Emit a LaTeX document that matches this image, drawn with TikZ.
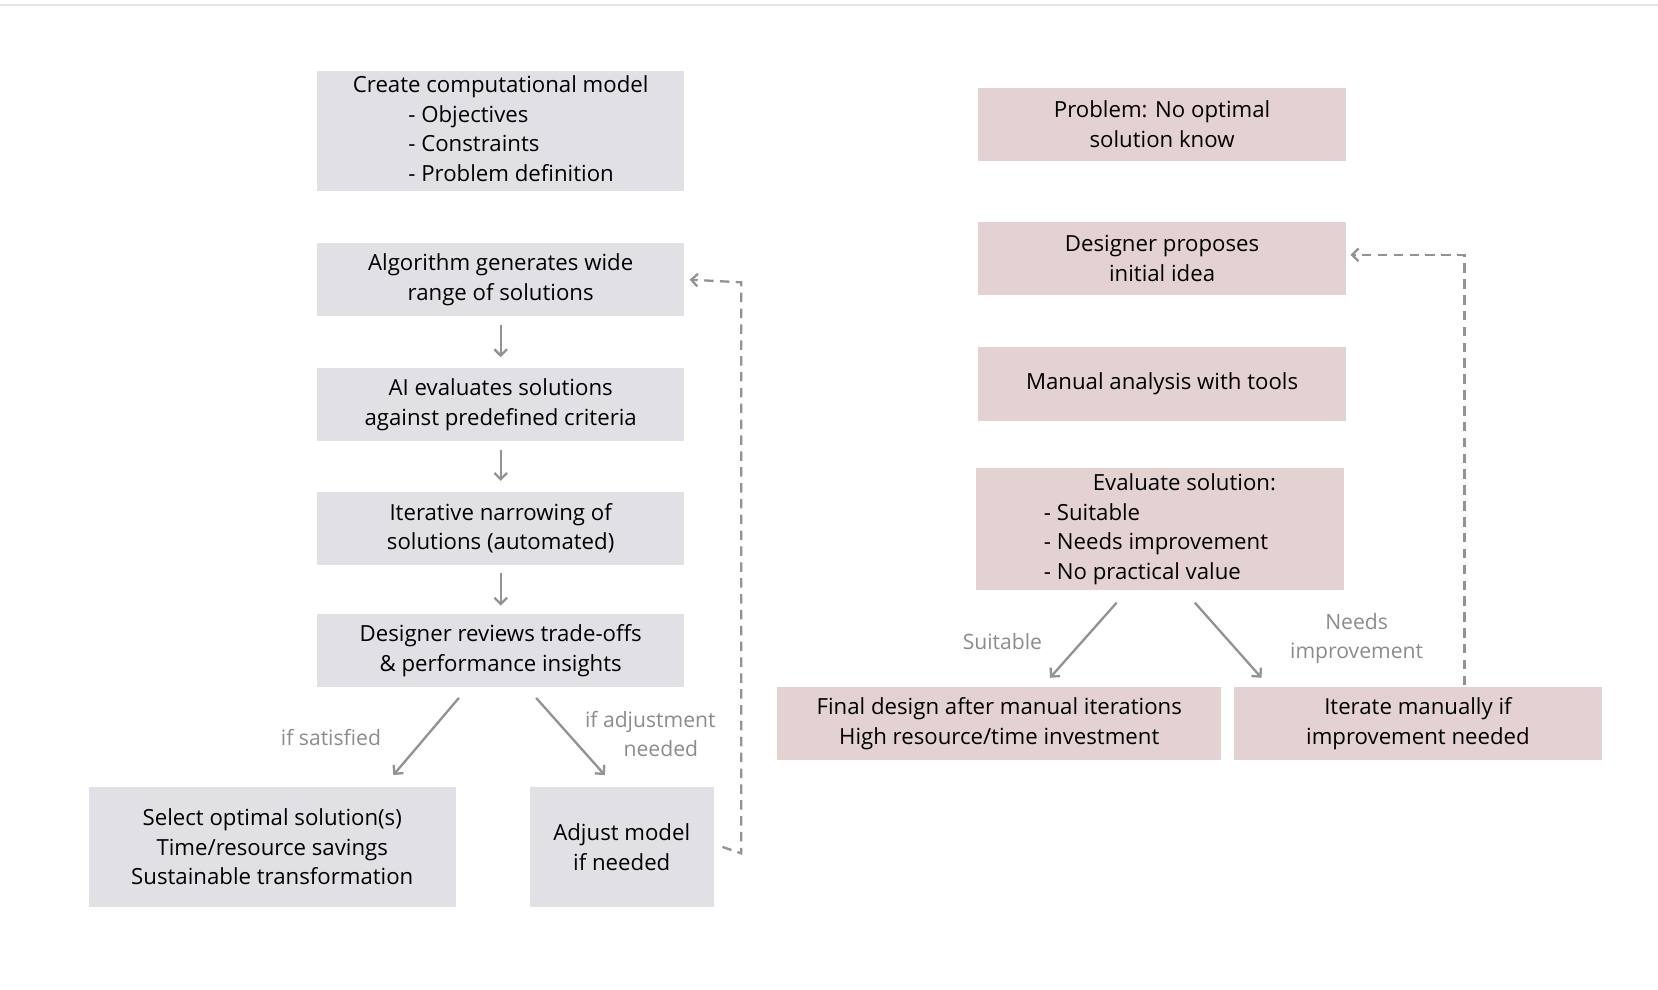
\documentclass[tikz,border=0pt]{standalone}
\usepackage{fontspec}
\usetikzlibrary{arrows.meta}
\setmainfont{Open Sans}
\begin{document}
\begin{tikzpicture}[x=1pt,y=-1pt,
 bx/.style={fill=blue!8!gray!22,inner sep=0pt,align=center,font=\fontsize{21}{28}\selectfont},
 pk/.style={fill=red!25!gray!28,inner sep=0pt,align=center,font=\fontsize{21}{28}\selectfont},
 ar/.style={draw=gray!85,line width=2.2pt,-{Straight Barb[length=6pt]}},
 da/.style={draw=gray!85,line width=2.2pt,dash pattern=on 9pt off 6pt,-{Straight Barb[length=6pt]}},
 lb/.style={text=gray!90,align=center,font=\fontsize{20}{27}\selectfont}]
\useasboundingbox (0,0) rectangle (1568,936);
\draw[gray!20,line width=2pt] (0,5) coordinate(tl) -- (1568,5) coordinate(tr);
\def\bxn#1#2#3#4#5#6#7{\node[#1,minimum width=#4-#3,minimum height=#6-#5] (#2) at ({(#3+#4)/2},{(#5+#6)/2}) {#7};}
\bxn{bx}{b1}{300}{647}{67}{181}{\begin{tabular}{@{}l@{}}Create computational model\\\hspace{2.5em}- Objectives\\\hspace{2.5em}- Constraints\\\hspace{2.5em}- Problem definition\end{tabular}}
\bxn{bx}{b2}{300}{647}{230}{299}{Algorithm generates wide\\range of solutions}
\bxn{bx}{b3}{300}{647}{348}{417}{AI evaluates solutions\\against predefined criteria}
\bxn{bx}{b4}{300}{647}{465}{534}{Iterative narrowing of\\solutions (automated)}
\bxn{bx}{b5}{300}{647}{581}{650}{Designer reviews trade-offs\\\& performance insights}
\bxn{bx}{b6}{84}{431}{744}{858}{Select optimal solution(s)\\Time/resource savings\\Sustainable transformation}
\bxn{bx}{b7}{501}{675}{744}{858}{Adjust model\\if needed}
\bxn{pk}{p1}{925}{1273}{83}{152}{Problem: No optimal\\solution know}
\bxn{pk}{p2}{925}{1273}{210}{279}{Designer proposes\\initial idea}
\bxn{pk}{p3}{925}{1273}{328}{398}{Manual analysis with tools}
\bxn{pk}{p4}{923}{1271}{443}{558}{\begin{tabular}{@{}l@{}}\hspace{2.2em}Evaluate solution:\\- Suitable\\- Needs improvement\\- No practical value\end{tabular}}
\bxn{pk}{p5}{735}{1155}{650}{719}{Final design after manual iterations\\High resource/time investment}
\bxn{pk}{p6}{1167}{1515}{650}{719}{Iterate manually if\\improvement needed}
\draw[ar] ([yshift=-8]b2.south) -- ([yshift=10]b3.north);
\draw[ar] ([yshift=-8]b3.south) -- ([yshift=10]b4.north);
\draw[ar] ([yshift=-8]b4.south) -- ([yshift=8]b5.north);
\draw[ar] (434,660) coordinate(s1) -- (372,733) coordinate(e1);
\draw[ar] (507,660) coordinate(s2) -- (572,733) coordinate(e2);
\node[lb] (l1) at (313,697) {if satisfied};
\node[lb] (l2) at (615,694) {if adjustment\\\hspace{1em}needed};
\draw[da] ([xshift=8]b7.east) -- (701,807) -- (701,267) -- ([xshift=5]b2.east);
\draw[ar] (1056,570) coordinate(s3) -- (993,641) coordinate(e3);
\draw[ar] (1130,570) coordinate(s4) -- (1193,641) coordinate(e4);
\node[lb] (l3) at (948,607) {Suitable};
\node[lb] (l4) at (1283,604) {Needs\\improvement};
\draw[da] (1385,648) -- (1385,241) -- ([xshift=4]p2.east|-0,241);
\end{tikzpicture}
\end{document}
